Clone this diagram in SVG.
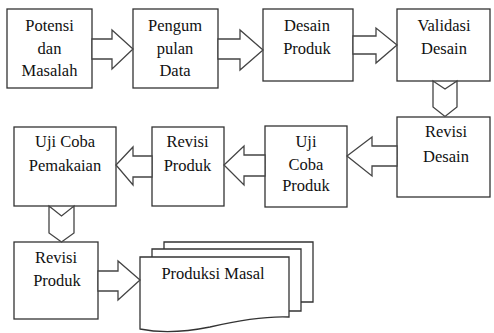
<svg xmlns="http://www.w3.org/2000/svg" width="494" height="333" viewBox="0 0 494 333">
<defs>
<style>
.box{fill:#fff;stroke:#333;stroke-width:1.3}
.arr{fill:#fff;stroke:#444;stroke-width:1.3;stroke-linejoin:miter}
.t{font-family:'Liberation Serif',serif;font-size:16.5px;fill:#111;text-anchor:middle}
</style>
</defs>
<rect width="494" height="333" fill="#fff"/>
<g id="n1"><rect class="box" x="7" y="9" width="85" height="79"/><text class="t" x="49.5" y="31">Potensi</text><text class="t" x="49.5" y="53.5">dan</text><text class="t" x="49.5" y="76">Masalah</text></g>
<g id="n2"><rect class="box" x="133" y="9" width="85" height="79"/><text class="t" x="175" y="31">Pengum</text><text class="t" x="175" y="53.5">pulan</text><text class="t" x="175" y="76">Data</text></g>
<g id="n3"><rect class="box" x="263" y="9" width="90" height="72"/><text class="t" x="307" y="31">Desain</text><text class="t" x="307" y="53.5">Produk</text></g>
<g id="n4"><rect class="box" x="397" y="9" width="93" height="72"/><text class="t" x="444" y="31">Validasi</text><text class="t" x="444" y="53.5">Desain</text></g>
<g id="n5"><rect class="box" x="397" y="117" width="93" height="80"/><text class="t" x="446" y="137">Revisi</text><text class="t" x="446" y="162">Desain</text></g>
<g id="n6"><rect class="box" x="265" y="126" width="82" height="81"/><text class="t" x="306" y="147">Uji</text><text class="t" x="306" y="170">Coba</text><text class="t" x="306" y="191">Produk</text></g>
<g id="n7"><rect class="box" x="152" y="127" width="72" height="79"/><text class="t" x="187.5" y="147">Revisi</text><text class="t" x="187.5" y="171">Produk</text></g>
<g id="n8"><rect class="box" x="14" y="127" width="102" height="79"/><text class="t" x="65" y="147">Uji Coba</text><text class="t" x="65" y="171">Pemakaian</text></g>
<g id="n9"><rect class="box" x="14" y="242" width="84" height="77"/><text class="t" x="56" y="263">Revisi</text><text class="t" x="57" y="286">Produk</text></g>
<g id="n10">
<path class="box" d="M164,242H313V302H164Z"/>
<path class="box" d="M152,249H301V311H152Z"/>
<path class="box" d="M140,257H289V317C265,316 240,320 210,327C180,333 160,333 140,329Z"/>
<text class="t" x="213" y="279">Produksi Masal</text>
</g>
<g id="connectors">
<polygon class="arr" points="92,39 112,39 112,30 133,49 112,69 112,59 92,59"/>
<polygon class="arr" points="218,39 240,39 240,30 263,50 240,70 240,59 218,59"/>
<polygon class="arr" points="353,36 376,36 376,28 397,45 376,63 376,54 353,54"/>
<polygon class="arr" points="433,81 445,89 457,81 457,107 445,116.5 433,107"/>
<polygon class="arr" points="397,146 372,146 372,137 347,156 372,176 372,166 397,166"/>
<polygon class="arr" points="265,155 244,155 244,146 224,165 244,185 244,176 265,176"/>
<polygon class="arr" points="152,156 133,156 133,147 116,165 133,185 133,177 152,177"/>
<polygon class="arr" points="49,206 61.5,216 74,206 74,233 61.5,242 49,233"/>
<polygon class="arr" points="98,271 118,271 118,261 140,280 118,300 118,291 98,291"/>
</g>
</svg>
